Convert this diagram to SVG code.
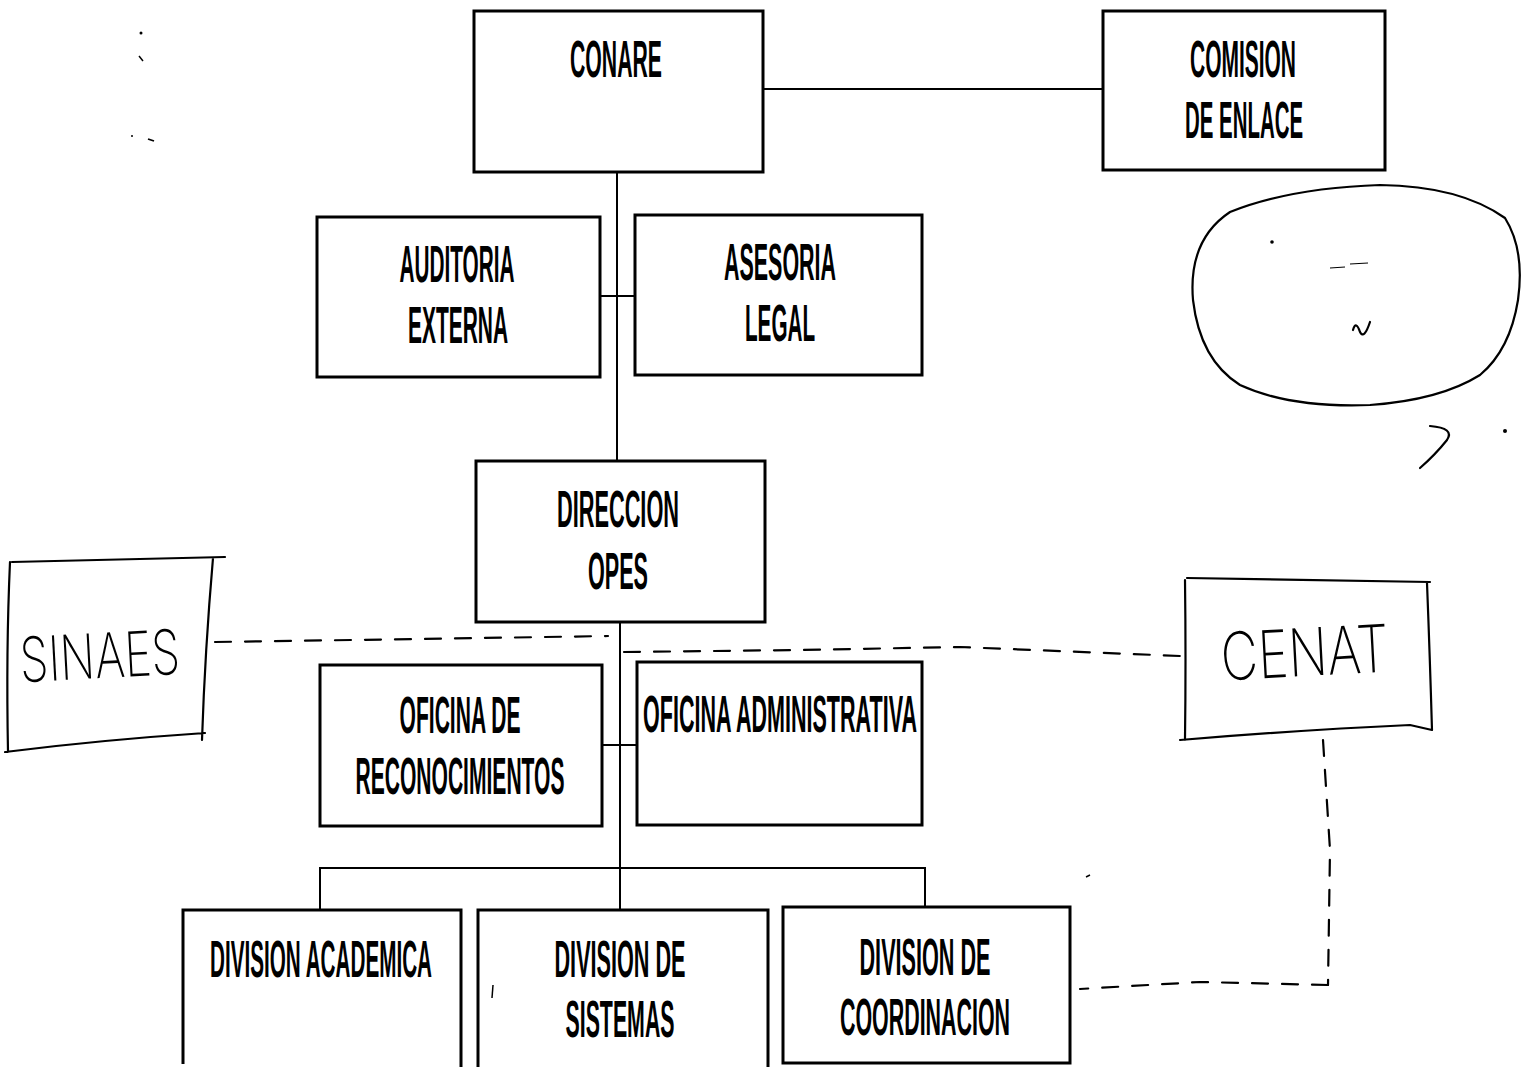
<svg xmlns="http://www.w3.org/2000/svg" width="1530" height="1067" viewBox="0 0 1530 1067">
<style>
.box{fill:#fff;stroke:#000;stroke-width:3}
.lbl{font-family:"Liberation Sans",Arial,sans-serif;font-weight:bold;font-size:22px;fill:#000;text-anchor:middle}
.conn{fill:none;stroke:#000;stroke-width:2}
.hand{fill:none;stroke:#000;stroke-width:2.2;stroke-linecap:round;stroke-linejoin:round}
.dash{fill:none;stroke:#000;stroke-width:2.2;stroke-dasharray:16 14;stroke-linecap:round}
.htxt{font-family:Inter,"Open Sans","Liberation Sans",sans-serif;font-weight:200;fill:#000;text-anchor:middle}
</style>
<rect width="1530" height="1067" fill="#fff"/>
<g id="connectors">
<line class="conn" x1="763" y1="89" x2="1103" y2="89"/>
<line class="conn" x1="617" y1="172" x2="617" y2="461"/>
<line class="conn" x1="600" y1="296" x2="635" y2="296"/>
<line class="conn" x1="620" y1="622" x2="620" y2="910"/>
<line class="conn" x1="602" y1="745" x2="637" y2="745"/>
<polyline class="conn" points="320,910 320,868 925,868 925,908"/>
<path class="dash" d="M215,642 L420,639 L608,636"/>
<path class="dash" d="M624,652 L800,650 L960,647 L1180,656"/>
<path class="dash" d="M1323,740 L1330,850 L1328,985"/>
<path class="dash" d="M1328,985 L1200,982 L1080,989"/>
</g>
<g id="conare"><rect class="box" x="474" y="11" width="289" height="161"/><text class="lbl" transform="translate(616,77) scale(1,2.35)" textLength="92" lengthAdjust="spacingAndGlyphs">CONARE</text></g>
<g id="comision"><rect class="box" x="1103" y="11" width="282" height="159"/><text class="lbl" transform="translate(1243,77) scale(1,2.35)" textLength="106" lengthAdjust="spacingAndGlyphs">COMISION</text><text class="lbl" transform="translate(1244,138) scale(1,2.35)" textLength="118" lengthAdjust="spacingAndGlyphs">DE ENLACE</text></g>
<g id="auditoria"><rect class="box" x="317" y="217" width="283" height="160"/><text class="lbl" transform="translate(457,282) scale(1,2.35)" textLength="115" lengthAdjust="spacingAndGlyphs">AUDITORIA</text><text class="lbl" transform="translate(458,343) scale(1,2.35)" textLength="100" lengthAdjust="spacingAndGlyphs">EXTERNA</text></g>
<g id="asesoria"><rect class="box" x="635" y="215" width="287" height="160"/><text class="lbl" transform="translate(780,280) scale(1,2.35)" textLength="112" lengthAdjust="spacingAndGlyphs">ASESORIA</text><text class="lbl" transform="translate(780,341) scale(1,2.35)" textLength="70" lengthAdjust="spacingAndGlyphs">LEGAL</text></g>
<g id="direccion"><rect class="box" x="476" y="461" width="289" height="161"/><text class="lbl" transform="translate(618,527) scale(1,2.35)" textLength="122" lengthAdjust="spacingAndGlyphs">DIRECCION</text><text class="lbl" transform="translate(618,589) scale(1,2.35)" textLength="60" lengthAdjust="spacingAndGlyphs">OPES</text></g>
<g id="reconocimientos"><rect class="box" x="320" y="665" width="282" height="161"/><text class="lbl" transform="translate(460,733) scale(1,2.35)" textLength="121" lengthAdjust="spacingAndGlyphs">OFICINA DE</text><text class="lbl" transform="translate(460,794) scale(1,2.35)" textLength="209" lengthAdjust="spacingAndGlyphs">RECONOCIMIENTOS</text></g>
<g id="administrativa"><rect class="box" x="637" y="662" width="285" height="163"/><text class="lbl" transform="translate(780,732) scale(1,2.35)" textLength="274" lengthAdjust="spacingAndGlyphs">OFICINA ADMINISTRATIVA</text></g>
<g id="academica"><path class="box" d="M183,1064 L183,910 L461,910 L461,1067"/><text class="lbl" transform="translate(321,977) scale(1,2.35)" textLength="222" lengthAdjust="spacingAndGlyphs">DIVISION ACADEMICA</text></g>
<g id="sistemas"><path class="box" d="M478,1067 L478,910 L768,910 L768,1067"/><text class="lbl" transform="translate(620,977) scale(1,2.35)" textLength="131" lengthAdjust="spacingAndGlyphs">DIVISION DE</text><text class="lbl" transform="translate(620,1037) scale(1,2.35)" textLength="109" lengthAdjust="spacingAndGlyphs">SISTEMAS</text></g>
<g id="coordinacion"><rect class="box" x="783" y="907" width="287" height="156"/><text class="lbl" transform="translate(925,975) scale(1,2.35)" textLength="131" lengthAdjust="spacingAndGlyphs">DIVISION DE</text><text class="lbl" transform="translate(925,1035) scale(1,2.35)" textLength="170" lengthAdjust="spacingAndGlyphs">COORDINACION</text></g>
<g id="sinaes"><path class="hand" d="M12,562 Q100,560 225,557 M213,558 Q205,650 202,740 M5,752 Q100,740 205,733 M10,562 Q6,650 8,752"/><text class="htxt" transform="translate(101,678) rotate(-3)" font-size="62" textLength="160" lengthAdjust="spacingAndGlyphs">SINAES</text></g>
<g id="cenat"><path class="hand" d="M1187,578 Q1300,580 1430,582 M1427,583 Q1430,660 1432,730 M1180,740 Q1300,730 1410,725 L1432,730 M1185,580 Q1186,660 1185,740"/><text class="htxt" transform="translate(1306,676) rotate(-3)" font-size="66" textLength="168" lengthAdjust="spacingAndGlyphs">CENAT</text></g>
<g id="blob"><path class="hand" d="M1230,212 Q1290,188 1380,185 Q1460,186 1505,218 Q1525,250 1518,300 Q1510,350 1480,375 Q1440,400 1370,405 Q1290,408 1240,385 Q1200,360 1193,300 Q1188,240 1230,212 Z"/><path class="hand" d="M1353,330 Q1356,320 1360,332 Q1364,340 1370,322" stroke-width="1.5"/><path d="M1330,268 L1345,267 M1350,264 L1368,263" stroke="#000" stroke-width="1.2"/></g>
<g id="marks">
<path class="hand" d="M1430,426 Q1455,428 1447,440 Q1435,455 1420,468" stroke-width="1.4"/>
<circle cx="1505" cy="431" r="2"/>
<circle cx="1272" cy="242" r="1.8"/>
<circle cx="141" cy="33" r="1.5"/>
<path d="M139,56 L143,61" stroke="#000" stroke-width="1.5"/>
<path d="M148,139 L154,141" stroke="#000" stroke-width="1.8"/>
<circle cx="132" cy="136" r="1"/>
<path d="M493,985 L492,998" stroke="#000" stroke-width="1.5"/>
<path d="M1086,877 L1090,875" stroke="#000" stroke-width="1.5"/>
</g>
</svg>
